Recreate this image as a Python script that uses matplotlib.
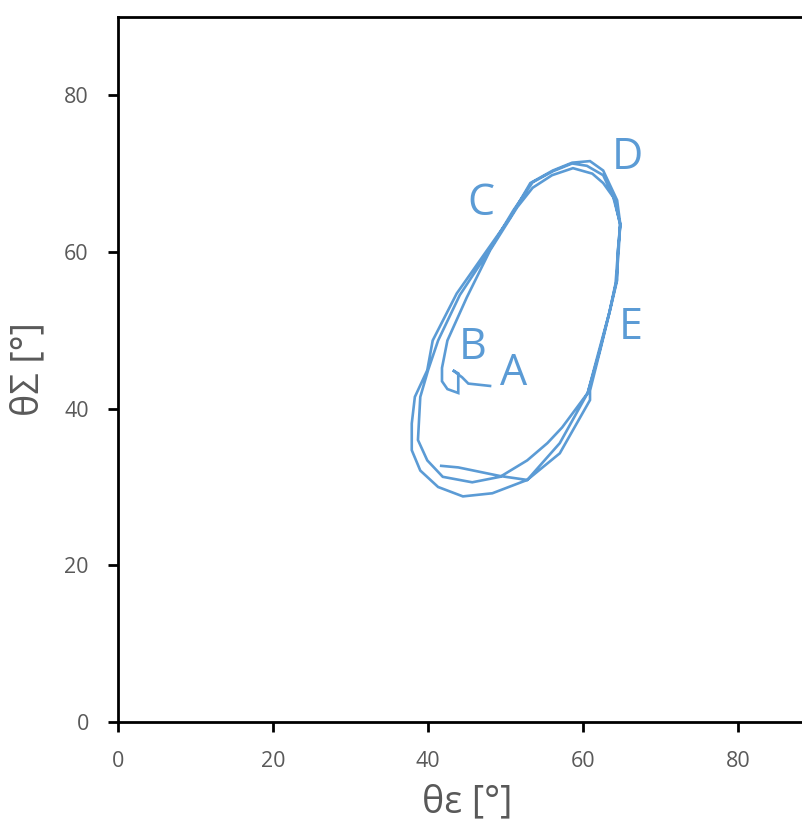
import numpy as np
import matplotlib
matplotlib.use("Agg")
import matplotlib.pyplot as plt

plt.rcParams['font.family'] = ['Open Sans', 'DejaVu Sans']

# угол theta_epsilon (ось x) и theta_sigma (ось y), в градусах
theta_eps = [48.0, 45.2, 44.4, 43.2, 43.9, 43.9, 42.5, 41.8, 41.8, 42.5,
             45.0, 48.0, 51.5, 53.5, 56.0, 58.7, 61.2, 62.6, 63.9, 64.8,
             64.5, 64.4, 63.5, 62.2, 60.9, 60.9, 57.0, 52.8, 48.3, 44.5,
             41.3, 39.0, 37.9, 37.9, 38.3, 39.9,
             40.6, 43.7, 47.6, 50.6, 53.2, 56.1, 58.6, 60.9, 62.6, 64.4,
             64.8, 64.6, 64.3, 63.4, 62.1, 60.6, 57.3, 55.4, 52.8, 49.3,
             45.7, 41.9, 39.9, 38.7, 39.0, 40.0,
             41.3, 44.1, 47.9, 51.0, 53.5, 56.1, 58.6, 60.5, 62.6, 64.1,
             64.8, 64.5, 64.2, 63.4, 62.0, 60.6, 57.0, 52.8, 49.3, 43.9, 41.7]
theta_sig = [42.9, 43.2, 44.0, 44.9, 44.5, 42.0, 42.5, 43.5, 45.2, 48.7,
             54.2, 60.2, 65.7, 68.2, 69.8, 70.7, 70.0, 68.8, 67.0, 63.6,
             60.2, 56.4, 52.6, 47.4, 42.3, 41.1, 34.3, 30.9, 29.2, 28.8,
             30.0, 32.1, 34.7, 38.1, 41.5, 44.9,
             48.7, 54.7, 60.2, 64.4, 68.8, 70.4, 71.4, 71.6, 70.4, 66.6,
             63.6, 60.2, 56.2, 52.3, 47.2, 42.0, 37.6, 35.6, 33.4, 31.3,
             30.6, 31.3, 33.4, 36.0, 41.5, 44.9,
             48.7, 54.5, 60.2, 65.3, 68.9, 70.3, 71.3, 71.0, 69.8, 66.6,
             63.4, 60.0, 56.0, 52.3, 47.2, 42.0, 35.6, 30.9, 31.4, 32.5, 32.7]

labels = ['A', 'B', 'C', 'D', 'E']
label_x = [51.0, 45.7, 46.8, 65.7, 66.2]
label_y = [44.5, 47.8, 66.2, 72.0, 50.3]

blue = '#5B9BD5'
grey = '#595959'

fig = plt.figure(figsize=(8.03, 8.32), dpi=100)
ax = fig.add_axes([0.147, 0.1322, 0.8686, 0.8474])

ax.plot(theta_eps, theta_sig, color=blue, linewidth=1.9, solid_joinstyle='miter')

for t, x, y in zip(labels, label_x, label_y):
    ax.text(x, y, t, color=blue, fontsize=31, ha='center', va='center')

ax.set_xlim(0, 90)
ax.set_ylim(0, 90)
ax.set_xticks([0, 20, 40, 60, 80])
ax.set_yticks([0, 20, 40, 60, 80])

for s in ['left', 'bottom', 'top', 'right']:
    ax.spines[s].set_linewidth(2)
    ax.spines[s].set_color('black')

ax.tick_params(direction='out', length=7, width=2, colors='black',
               labelcolor=grey, labelsize=15.5, pad=14)

ax.set_xlabel('θε [°]', fontsize=27, color=grey, labelpad=8)
ax.set_ylabel('θΣ [°]', fontsize=27, color=grey, labelpad=12)

fig.savefig('out.png', dpi=100)
